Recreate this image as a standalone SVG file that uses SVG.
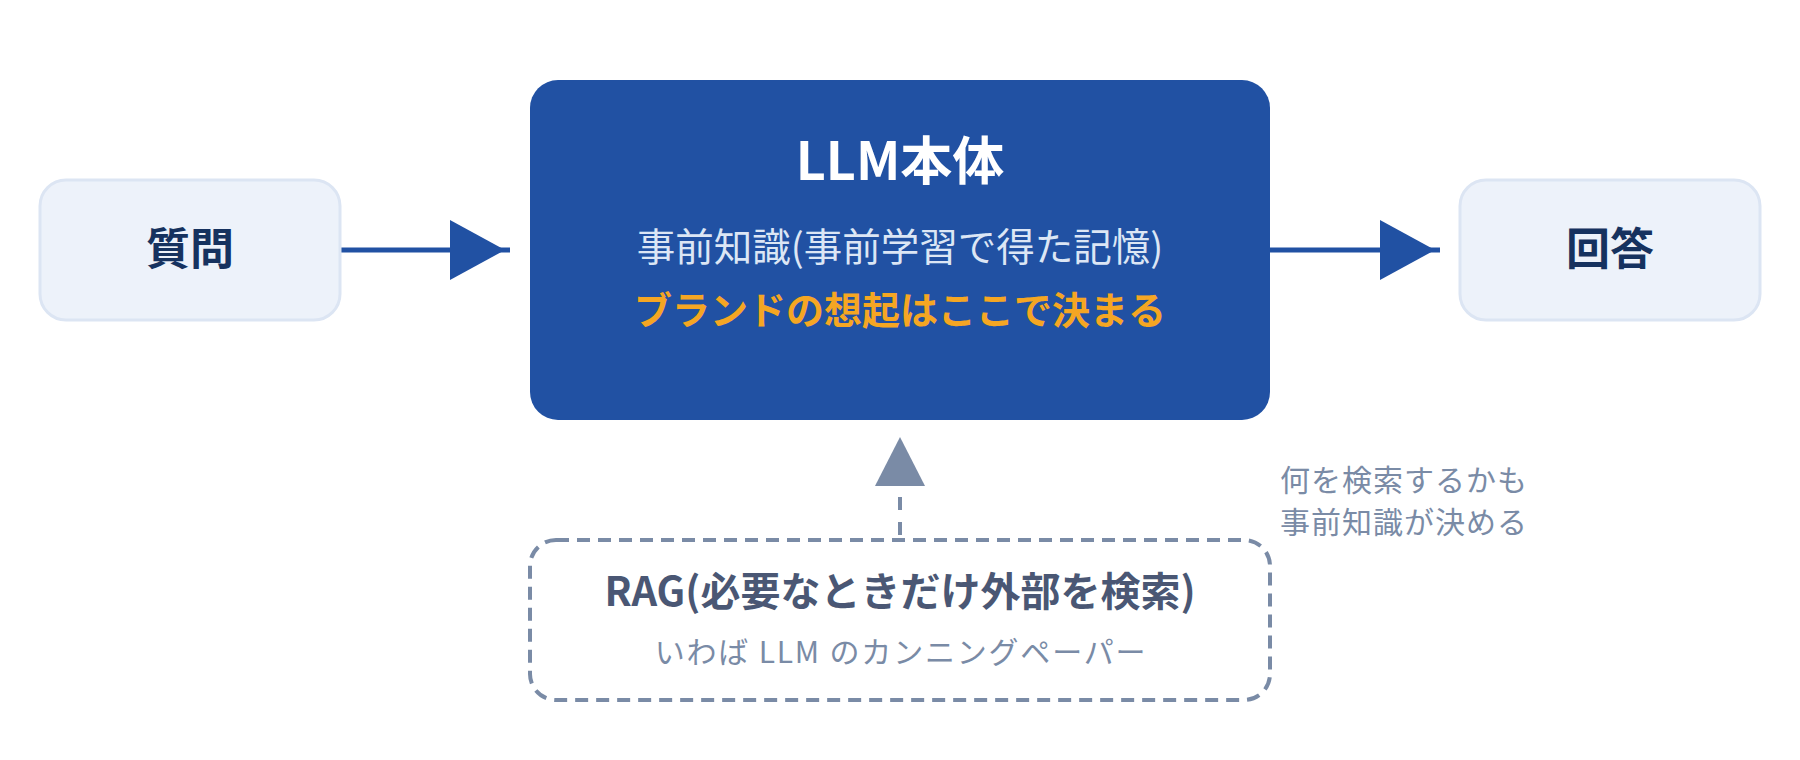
<svg xmlns="http://www.w3.org/2000/svg" width="1800" height="760" viewBox="0 0 1800 760">
  <style>
    text { font-family: "Noto Sans CJK JP", "Noto Sans", sans-serif; }
    .io-box { fill: #EDF2FA; stroke: #DCE5F3; stroke-width: 3; }
    .io-text { fill: #16325F; font-size: 44px; font-weight: 700; text-anchor: middle; }
    .main-box { fill: #2151A3; }
    .title { fill: #FFFFFF; font-size: 52px; font-weight: 700; text-anchor: middle; }
    .sub { fill: #DCE6F5; font-size: 38.5px; font-weight: 400; text-anchor: middle; }
    .accent { fill: #F5A623; font-size: 38px; font-weight: 700; text-anchor: middle; }
    .rag-box { fill: none; stroke: #7A8BA6; stroke-width: 4; stroke-dasharray: 13 8; }
    .rag-title { fill: #4A5774; font-size: 40px; font-weight: 700; text-anchor: middle; }
    .rag-sub { fill: #7A8BA6; font-size: 30px; font-weight: 400; text-anchor: middle; letter-spacing: 1.8px; }
    .note { fill: #7A8BA6; font-size: 30px; font-weight: 400; letter-spacing: 1px; }
    .flow { stroke: #2151A3; stroke-width: 5; fill: none; }
    .ref { stroke: #7A8BA6; stroke-width: 4; fill: none; stroke-dasharray: 13 12; }
  </style>
  <defs>
    <marker id="arrow-blue" markerUnits="userSpaceOnUse" viewBox="0 0 60 60" markerWidth="60" markerHeight="60" refX="60" refY="30" orient="auto" overflow="visible">
      <path d="M0,0 L55,30 L0,60 Z" fill="#2151A3"/>
    </marker>
    <marker id="arrow-gray" markerUnits="userSpaceOnUse" viewBox="0 0 50 50" markerWidth="50" markerHeight="50" refX="0" refY="25" orient="auto" overflow="visible">
      <path d="M0,0 L49,25 L0,50 Z" fill="#7A8BA6"/>
    </marker>
  </defs>

  <g id="connectors">
    <line class="flow" x1="340" y1="250" x2="510" y2="250" marker-end="url(#arrow-blue)"/>
    <line class="flow" x1="1270" y1="250" x2="1440" y2="250" marker-end="url(#arrow-blue)"/>
    <line class="ref" x1="900" y1="535" x2="900" y2="486" marker-end="url(#arrow-gray)"/>
  </g>

  <g id="node-question">
    <rect class="io-box" x="40" y="180" width="300" height="140" rx="26" ry="26"/>
    <text class="io-text" x="190" y="265">質問</text>
  </g>

  <g id="node-llm">
    <rect class="main-box" x="530" y="80" width="740" height="340" rx="28" ry="28"/>
    <text class="title" x="900" y="180">LLM本体</text>
    <text class="sub" x="900" y="261">事前知識(事前学習で得た記憶)</text>
    <text class="accent" x="900" y="324">ブランドの想起はここで決まる</text>
  </g>

  <g id="node-answer">
    <rect class="io-box" x="1460" y="180" width="300" height="140" rx="26" ry="26"/>
    <text class="io-text" x="1610" y="265">回答</text>
  </g>

  <g id="node-rag">
    <rect class="rag-box" x="530" y="540" width="740" height="160" rx="26" ry="26"/>
    <text class="rag-title" x="900" y="606">RAG(必要なときだけ外部を検索)</text>
    <text class="rag-sub" x="901" y="663">いわば LLM のカンニングペーパー</text>
  </g>

  <g id="note">
    <text class="note" x="1280" y="491">何を検索するかも</text>
    <text class="note" x="1280" y="533">事前知識が決める</text>
  </g>
</svg>
